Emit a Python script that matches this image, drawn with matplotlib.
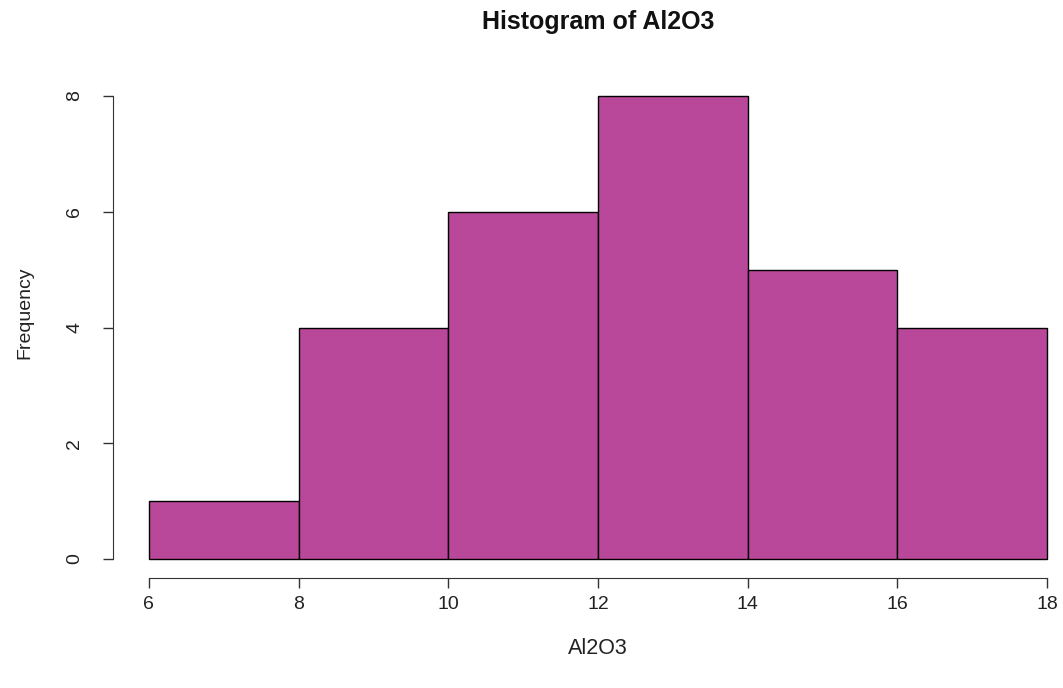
import matplotlib
matplotlib.use("Agg")
import matplotlib.pyplot as plt
import numpy as np

bin_edges = [6, 8, 10, 12, 14, 16, 18]
counts = [1, 4, 6, 8, 5, 4]
x_ticks = [6, 8, 10, 12, 14, 16, 18]
y_ticks = [0, 2, 4, 6, 8]

plt.rcParams['font.family'] = ['Liberation Sans', 'DejaVu Sans']

W, H = 1063, 688
fig = plt.figure(figsize=(W / 100, H / 100), dpi=100)
left, right = 113, 1083
top, bottom = 77.5, 577.5
ax = fig.add_axes([left / W, 1 - bottom / H, (right - left) / W, (bottom - top) / H])

edges = np.array(bin_edges, dtype=float)
ax.bar(edges[:-1], counts, width=np.diff(edges), align='edge',
       color='#B9489B', edgecolor='black', linewidth=1.0)

ax.set_xlim(5.52, 18.48)
ax.set_ylim(-0.32, 8.32)

for s in ['top', 'right']:
    ax.spines[s].set_visible(False)
ax.spines['left'].set_bounds(0, 8)
ax.spines['bottom'].set_bounds(6, 18)
ax.spines['left'].set_color('#333333')
ax.spines['bottom'].set_color('#333333')

ax.set_xticks(x_ticks)
ax.set_yticks(y_ticks)
ax.set_xticklabels([str(v) for v in x_ticks])
ax.set_yticklabels([str(v) for v in y_ticks], rotation=90, va='center')
ax.tick_params(axis='both', length=7.5, width=1.0, color='#333333',
               labelsize=14, labelcolor='#222222', pad=6)
ax.tick_params(axis='y', pad=14)

fig.text(598 / W, 1 - 22 / H, 'Histogram of Al2O3', ha='center', va='center',
         fontsize=18, fontweight='bold', color='#111111')
fig.text(598 / W, 1 - 648 / H, 'Al2O3', ha='center', va='center',
         fontsize=15.5, color='#222222')
fig.text(25 / W, 1 - 313 / H, 'Frequency', ha='center', va='center',
         rotation=90, fontsize=14, color='#222222')

fig.savefig('out.png', dpi=100)
